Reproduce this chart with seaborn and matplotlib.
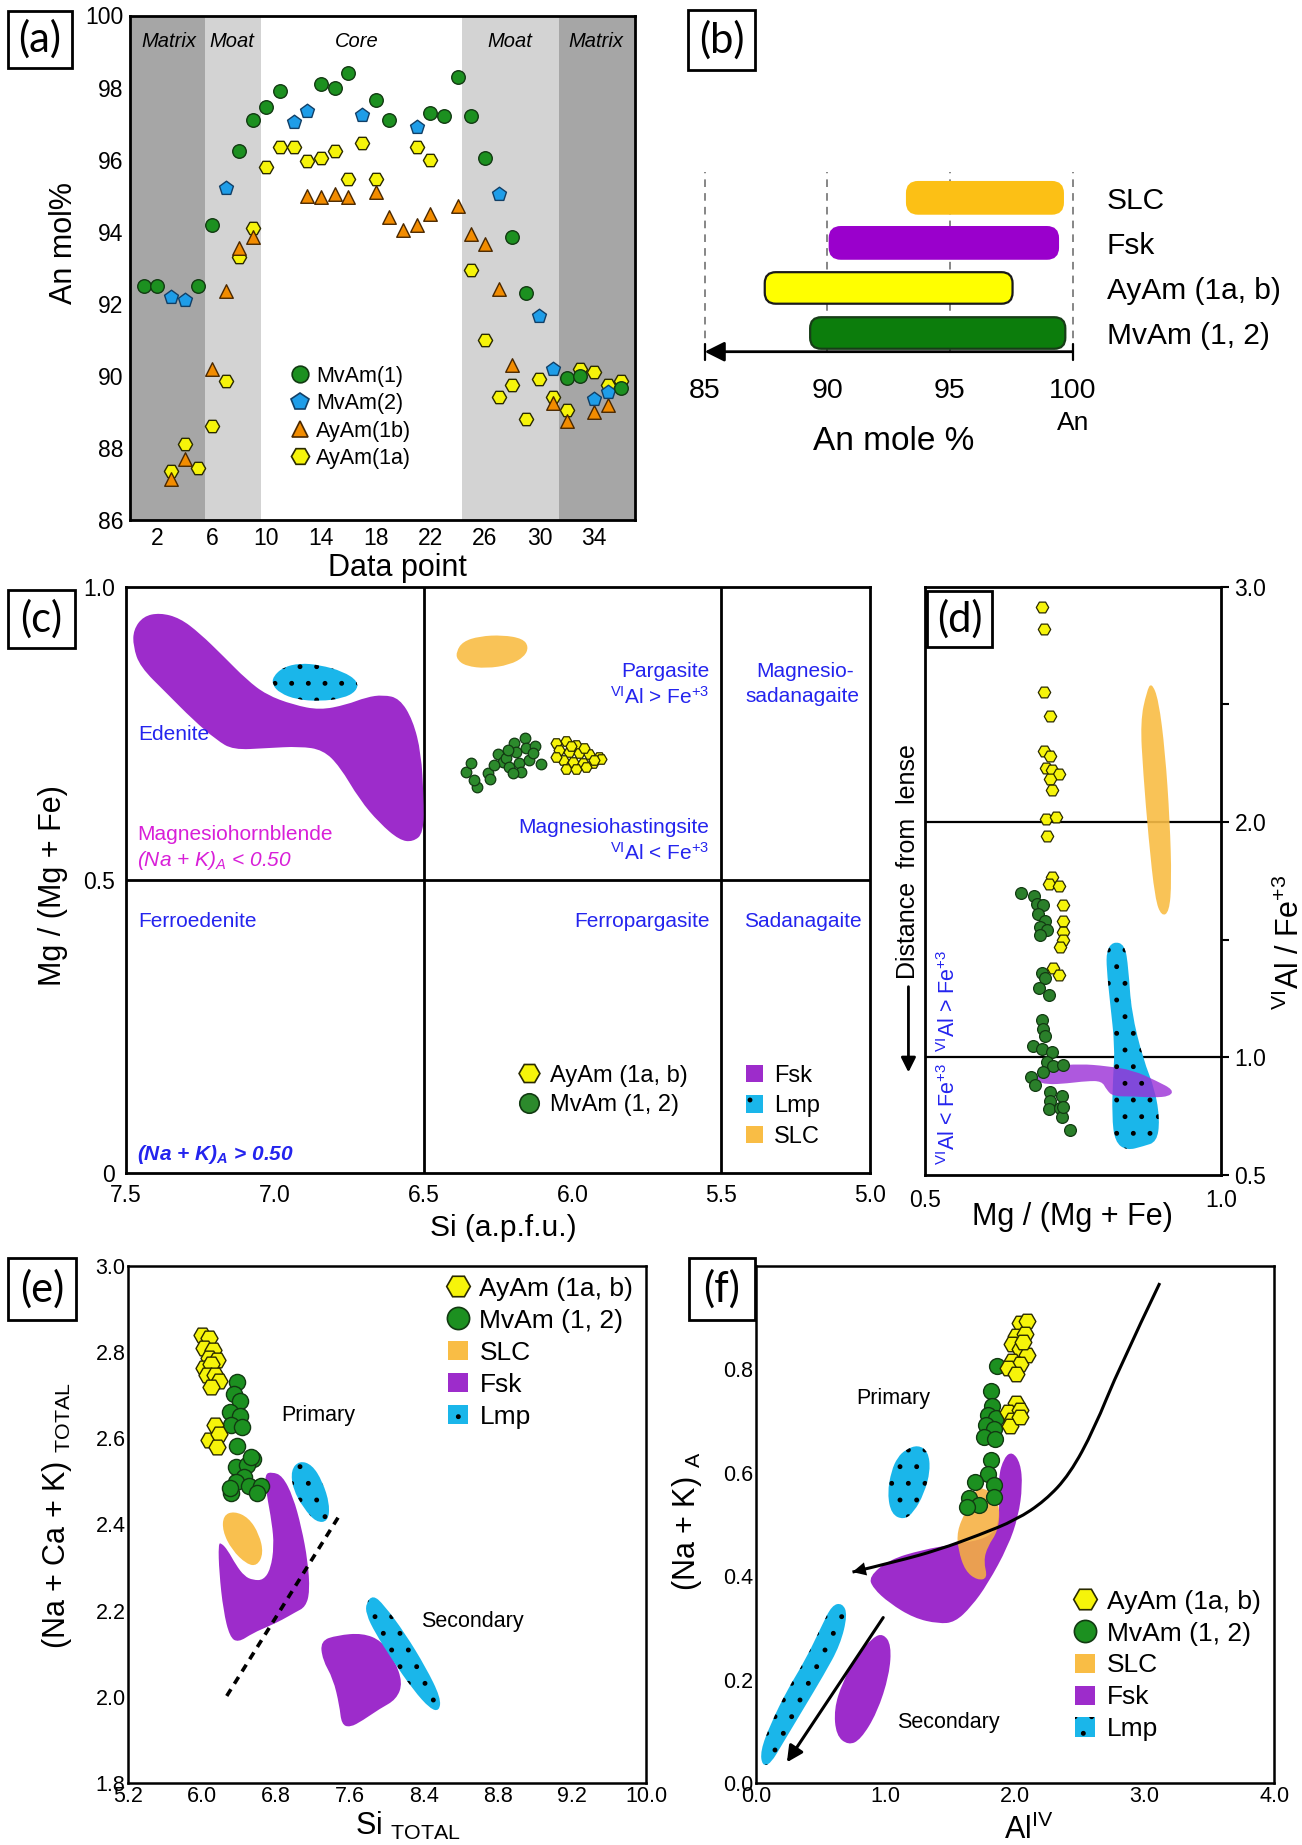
import numpy as np
import matplotlib
matplotlib.use("Agg")
import matplotlib.pyplot as plt
import seaborn as sns
from matplotlib.path import Path
from matplotlib.patches import PathPatch, FancyBboxPatch, Patch, Rectangle
from matplotlib.lines import Line2D
from matplotlib.ticker import FixedLocator, MultipleLocator

# ============================ DATA ============================
# ---- (a) An mol% profile ----
a_zone_edges = [0, 5.5, 9.6, 24.3, 31.4, 37]
a_zone_names = ["Matrix", "Moat", "Core", "Moat", "Matrix"]
a_zone_label_x = [2.85, 7.45, 16.6, 27.8, 34.1]
a_mv1_x = [1, 2, 5, 6, 8, 9, 10, 11, 14, 15, 16, 18, 19, 22, 23, 24, 25, 26, 28, 29, 32, 33, 36]
a_mv1_y = [92.5, 92.5, 92.5, 94.2, 96.25, 97.1, 97.45, 97.9, 98.1, 98.0, 98.4, 97.65, 97.1,
           97.3, 97.2, 98.3, 97.2, 96.05, 93.85, 92.3, 89.95, 90.0, 89.65]
a_mv2_x = [3, 4, 7, 12, 13, 17, 21, 27, 30, 31, 34, 35]
a_mv2_y = [92.2, 92.1, 95.2, 97.05, 97.35, 97.25, 96.9, 95.05, 91.65, 90.2, 89.35, 89.55]
a_ay1b_x = [3, 4, 6, 7, 8, 9, 13, 14, 15, 16, 18, 19, 20, 21, 22, 24, 25, 26, 27, 28, 31, 32, 34, 35]
a_ay1b_y = [87.15, 87.7, 90.2, 92.35, 93.55, 93.85, 95.0, 94.95, 95.05, 94.95, 95.1, 94.4, 94.05,
            94.2, 94.5, 94.7, 93.95, 93.65, 92.4, 90.3, 89.25, 88.75, 89.0, 89.2]
a_ay1a_x = [3, 4, 5, 6, 7, 8, 9, 10, 11, 12, 13, 14, 15, 16, 17, 18, 21, 22, 25, 26, 27, 28, 29,
            30, 31, 32, 33, 34, 35, 36]
a_ay1a_y = [87.35, 88.1, 87.45, 88.6, 89.85, 93.3, 94.1, 95.8, 96.35, 96.35, 95.95, 96.05, 96.25,
            95.45, 96.45, 95.45, 96.35, 96.0, 92.95, 91.0, 89.4, 89.75, 88.8, 89.9, 89.4, 89.05,
            90.2, 90.1, 89.75, 89.85]

# ---- (b) An ranges ----
b_labels = ["MvAm (1, 2)", "AyAm (1a, b)", "Fsk", "SLC"]
b_start = [89.3, 87.45, 90.1, 93.25]
b_end = [99.7, 97.55, 99.4, 99.6]
b_grid = [85, 90, 95, 100]

# ---- (c) Si vs Mg/(Mg+Fe) ----
c_mv_si = [6.357, 6.340, 6.321, 6.329, 6.284, 6.278, 6.251, 6.234, 6.223, 6.214, 6.195, 6.189,
           6.178, 6.158, 6.156, 6.172, 6.200, 6.145, 6.125, 6.106, 6.134, 6.217, 6.262]
c_mv_mg = [0.685, 0.700, 0.659, 0.671, 0.683, 0.673, 0.715, 0.702, 0.708, 0.692, 0.733, 0.719,
           0.700, 0.743, 0.725, 0.685, 0.683, 0.705, 0.728, 0.698, 0.716, 0.722, 0.696]
c_ay_si = [6.055, 6.021, 5.988, 6.044, 6.010, 5.977, 5.943, 5.910, 6.033, 5.999, 5.966, 5.932,
           5.904, 6.021, 5.988, 5.955, 6.055, 6.005, 5.960, 5.927]
c_ay_mg = [0.733, 0.738, 0.730, 0.722, 0.719, 0.716, 0.715, 0.710, 0.705, 0.702, 0.700, 0.699,
           0.706, 0.690, 0.690, 0.693, 0.710, 0.728, 0.725, 0.705]
c_fsk_x = [7.475, 7.442, 7.386, 7.319, 7.252, 7.173, 7.095, 7.028, 6.938, 6.849, 6.760, 6.692,
           6.636, 6.581, 6.536, 6.508, 6.500, 6.500, 6.536, 6.581, 6.648, 6.715, 6.782, 6.838,
           6.916, 7.028, 7.140, 7.196, 7.274, 7.364, 7.453, 7.476]
c_fsk_y = [0.927, 0.950, 0.956, 0.947, 0.921, 0.882, 0.842, 0.816, 0.799, 0.790, 0.799, 0.812,
           0.816, 0.810, 0.773, 0.716, 0.642, 0.580, 0.565, 0.568, 0.597, 0.637, 0.694, 0.722,
           0.728, 0.725, 0.722, 0.739, 0.773, 0.819, 0.864, 0.899]
c_lmp_x = [7.006, 6.972, 6.916, 6.849, 6.771, 6.720, 6.726, 6.771, 6.849, 6.927, 6.983, 7.008]
c_lmp_y = [0.847, 0.863, 0.870, 0.867, 0.856, 0.839, 0.822, 0.810, 0.805, 0.808, 0.819, 0.833]
c_slc_x = [6.390, 6.368, 6.312, 6.234, 6.167, 6.147, 6.161, 6.211, 6.290, 6.357, 6.388]
c_slc_y = [0.890, 0.907, 0.916, 0.918, 0.912, 0.898, 0.881, 0.867, 0.861, 0.865, 0.876]

# ---- (d) Mg/(Mg+Fe) vs VIAl/Fe3+ ----
d_ay_x = [0.697, 0.701, 0.701, 0.711, 0.701, 0.712, 0.705, 0.714, 0.727, 0.711, 0.714, 0.704,
          0.722, 0.706, 0.714, 0.709, 0.727, 0.733, 0.733, 0.734, 0.734, 0.728, 0.717, 0.727]
d_ay_y = [2.915, 2.818, 2.551, 2.449, 2.302, 2.28, 2.228, 2.221, 2.203, 2.184, 2.136, 2.013,
          2.022, 1.939, 1.764, 1.737, 1.727, 1.645, 1.58, 1.534, 1.497, 1.47, 1.378, 1.35]
d_mv_x = [0.662, 0.684, 0.689, 0.700, 0.691, 0.703, 0.694, 0.706, 0.694, 0.697, 0.703, 0.693,
          0.709, 0.697, 0.700, 0.703, 0.683, 0.697, 0.714, 0.706, 0.717, 0.700, 0.733, 0.680,
          0.686, 0.711, 0.712, 0.710, 0.731, 0.728, 0.731, 0.745, 0.734]
d_mv_y = [1.70, 1.685, 1.65, 1.645, 1.608, 1.58, 1.553, 1.54, 1.521, 1.359, 1.337, 1.295, 1.263,
          1.157, 1.12, 1.092, 1.05, 1.037, 1.022, 0.982, 0.963, 0.939, 0.969, 0.917, 0.884,
          0.853, 0.816, 0.779, 0.834, 0.785, 0.748, 0.692, 0.788]
d_slc_x = [0.875, 0.883, 0.895, 0.906, 0.914, 0.917, 0.913, 0.900, 0.889, 0.878, 0.869, 0.864]
d_slc_y = [2.556, 2.593, 2.519, 2.298, 2.004, 1.746, 1.617, 1.599, 1.672, 1.930, 2.206, 2.427]
d_lmp_x = [0.807, 0.818, 0.838, 0.844, 0.849, 0.869, 0.889, 0.897, 0.892, 0.869, 0.841, 0.821,
           0.816, 0.818, 0.821, 0.813, 0.807]
d_lmp_y = [1.451, 1.492, 1.479, 1.378, 1.193, 0.991, 0.862, 0.733, 0.641, 0.622, 0.604, 0.641,
           0.751, 0.917, 1.046, 1.230, 1.378]
d_fsk_x = [0.689, 0.717, 0.762, 0.807, 0.852, 0.892, 0.920, 0.914, 0.886, 0.852, 0.818, 0.807,
           0.799, 0.773, 0.740, 0.706, 0.689]
d_fsk_y = [0.936, 0.963, 0.972, 0.963, 0.945, 0.899, 0.862, 0.834, 0.829, 0.834, 0.834, 0.862,
           0.899, 0.899, 0.889, 0.884, 0.899]

# ---- (e) Si total vs (Na+Ca+K) total ----
e_xtick_labels = ["5.2", "6.0", "6.8", "7.6", "8.4", "8.8", "9.2", "10.0"]
e_ay_x = [5.999, 6.068, 6.022, 6.113, 6.068, 6.159, 6.022, 6.090, 6.045, 6.136, 6.182, 6.090,
          6.136, 6.068, 6.182, 6.159]
e_ay_y = [2.841, 2.833, 2.810, 2.806, 2.786, 2.781, 2.764, 2.773, 2.746, 2.748, 2.733, 2.720,
          2.632, 2.597, 2.610, 2.579]
e_mv_x = [6.378, 6.342, 6.410, 6.296, 6.410, 6.310, 6.433, 6.378, 6.547, 6.364, 6.479, 6.447,
          6.364, 6.502, 6.638, 6.310, 6.593, 6.296, 6.524]
e_mv_y = [2.730, 2.704, 2.686, 2.660, 2.652, 2.630, 2.627, 2.582, 2.553, 2.533, 2.537, 2.510,
          2.498, 2.489, 2.489, 2.472, 2.472, 2.484, 2.557]
e_slc_x = [6.227, 6.342, 6.501, 6.616, 6.661, 6.593, 6.479, 6.319, 6.218]
e_slc_y = [2.421, 2.431, 2.416, 2.377, 2.333, 2.304, 2.308, 2.341, 2.385]
e_fsk1_x = [6.173, 6.182, 6.227, 6.296, 6.387, 6.547, 6.730, 6.867, 7.004, 7.118, 7.163, 7.141,
            7.072, 6.981, 6.867, 6.753, 6.675, 6.693, 6.753, 6.775, 6.739, 6.661, 6.547, 6.456,
            6.364, 6.273, 6.205]
e_fsk1_y = [2.355, 2.289, 2.200, 2.139, 2.126, 2.148, 2.165, 2.179, 2.196, 2.209, 2.245, 2.315,
            2.394, 2.465, 2.513, 2.522, 2.517, 2.473, 2.403, 2.350, 2.297, 2.271, 2.271, 2.280,
            2.306, 2.341, 2.357]
e_lmp1_x = [6.958, 7.049, 7.186, 7.300, 7.378, 7.360, 7.232, 7.095, 6.981]
e_lmp1_y = [2.526, 2.548, 2.539, 2.500, 2.447, 2.407, 2.405, 2.438, 2.482]
e_fsk2_x = [7.278, 7.460, 7.734, 7.940, 8.077, 8.168, 8.100, 7.917, 7.734, 7.597, 7.506, 7.483,
            7.415, 7.300]
e_fsk2_y = [2.130, 2.143, 2.148, 2.130, 2.086, 2.033, 1.994, 1.972, 1.945, 1.929, 1.936, 1.980,
            2.042, 2.086]
e_lmp2_x = [7.771, 7.848, 7.963, 8.191, 8.419, 8.579, 8.565, 8.465, 8.282, 8.054, 7.871, 7.771]
e_lmp2_y = [2.218, 2.236, 2.214, 2.148, 2.068, 1.998, 1.967, 1.972, 2.016, 2.086, 2.148, 2.192]
e_dash_x = [6.264, 7.483]
e_dash_y = [2.002, 2.421]

# ---- (f) AlIV vs (Na+K)A ----
f_ay_x = [2.041, 2.089, 2.009, 2.073, 1.972, 2.035, 2.089, 1.978, 2.041, 1.946, 2.009, 2.009,
          1.946, 2.035, 1.978, 1.962, 2.035, 2.057]
f_ay_y = [0.890, 0.894, 0.864, 0.868, 0.850, 0.840, 0.828, 0.817, 0.811, 0.802, 0.791, 0.735,
          0.718, 0.722, 0.703, 0.691, 0.707, 0.853]
f_mv_x = [1.858, 1.813, 1.820, 1.788, 1.851, 1.772, 1.835, 1.756, 1.845, 1.813, 1.788, 1.693,
          1.835, 1.646, 1.835, 1.718, 1.630]
f_mv_y = [0.807, 0.758, 0.729, 0.711, 0.706, 0.692, 0.685, 0.670, 0.665, 0.625, 0.597, 0.582,
          0.577, 0.552, 0.553, 0.538, 0.533]
f_slc_x = [1.614, 1.693, 1.756, 1.835, 1.883, 1.867, 1.788, 1.756, 1.788, 1.709, 1.614, 1.560, 1.551]
f_slc_y = [0.524, 0.568, 0.571, 0.557, 0.531, 0.487, 0.458, 0.429, 0.396, 0.392, 0.410, 0.451, 0.487]
f_fsk1_x = [0.870, 1.028, 1.282, 1.535, 1.788, 1.883, 1.867, 1.915, 1.978, 2.041, 2.057, 2.025,
            1.946, 1.788, 1.661, 1.535, 1.408, 1.218, 1.028, 0.902]
f_fsk1_y = [0.399, 0.432, 0.451, 0.462, 0.473, 0.502, 0.590, 0.630, 0.641, 0.619, 0.575, 0.516,
            0.458, 0.385, 0.341, 0.311, 0.308, 0.319, 0.348, 0.377]
f_fsk2_x = [0.902, 0.981, 1.044, 1.028, 0.934, 0.807, 0.712, 0.617, 0.601, 0.665, 0.775]
f_fsk2_y = [0.282, 0.289, 0.267, 0.209, 0.136, 0.084, 0.073, 0.092, 0.143, 0.194, 0.245]
f_lmp1_x = [1.155, 1.250, 1.329, 1.345, 1.297, 1.218, 1.139, 1.044, 1.013, 1.044, 1.092]
f_lmp1_y = [0.645, 0.654, 0.641, 0.604, 0.560, 0.524, 0.509, 0.520, 0.560, 0.604, 0.630]
f_lmp2_x = [0.585, 0.665, 0.706, 0.649, 0.522, 0.364, 0.206, 0.111, 0.047, 0.032, 0.111, 0.237,
            0.380, 0.506]
f_lmp2_y = [0.344, 0.348, 0.326, 0.267, 0.209, 0.143, 0.077, 0.037, 0.033, 0.062, 0.114, 0.179,
            0.238, 0.304]
f_curve_x = [3.117, 2.801, 2.611, 2.421, 2.231, 2.009, 1.725, 1.408, 1.092, 0.744]
f_curve_y = [0.967, 0.802, 0.685, 0.597, 0.546, 0.509, 0.480, 0.451, 0.429, 0.408]
f_arrow2_x = [0.981, 0.237]
f_arrow2_y = [0.320, 0.040]

# ============================ STYLE ============================
sns.set_style("white")
plt.rcParams["font.family"] = ["Liberation Sans", "DejaVu Sans"]
plt.rcParams["mathtext.fontset"] = "custom"
plt.rcParams["mathtext.rm"] = "Liberation Sans"
plt.rcParams["mathtext.it"] = "Liberation Sans:italic"
plt.rcParams["mathtext.bf"] = "Liberation Sans:bold"
plt.rcParams["hatch.linewidth"] = 1.1
plt.rcParams["hatch.color"] = "black"
for k in ["axes.edgecolor", "xtick.color", "ytick.color", "text.color", "axes.labelcolor"]:
    plt.rcParams[k] = "black"

GREEN, GREEN_E = "#1c9020", "#123a12"
BLUE, BLUE_E = "#1e9de8", "#123f66"
ORANGE, ORANGE_E = "#f28c00", "#4a2800"
YELLOW, YELLOW_E = "#f6f40a", "#2a2a00"
PURPLE = "#9d2ccb"
CYAN = "#1ab6ea"
SLC_C = "#f9bd45"
TBLUE = "#2424ee"
TMAG = "#d81fd8"

W, H = 1302, 1845
fig = plt.figure(figsize=(W / 100, H / 100), dpi=100)


def add_ax(l, t, r, b):
    return fig.add_axes([l / W, 1 - b / H, (r - l) / W, (b - t) / H])


def smooth_closed(xs, ys):
    p = np.column_stack([xs, ys]).astype(float)
    m = (p + np.roll(p, -1, axis=0)) / 2.0
    verts, codes = [m[-1]], [Path.MOVETO]
    for i in range(len(p)):
        verts += [p[i], m[i]]
        codes += [Path.CURVE3, Path.CURVE3]
    verts.append(m[-1])
    codes.append(Path.CLOSEPOLY)
    return Path(np.array(verts), codes)


def smooth_open(xs, ys):
    p = np.column_stack([xs, ys]).astype(float)
    n = len(p)
    verts, codes = [p[0]], [Path.MOVETO]
    for i in range(1, n - 1):
        end = p[n - 1] if i == n - 2 else (p[i] + p[i + 1]) / 2
        verts += [p[i], end]
        codes += [Path.CURVE3, Path.CURVE3]
    return Path(np.array(verts), codes)


def region(ax, xs, ys, color, alpha=1.0, dots=False, z=2):
    path = smooth_closed(xs, ys)
    ax.add_patch(PathPatch(path, facecolor=color, edgecolor="none", alpha=alpha, zorder=z))
    if dots:
        ax.add_patch(PathPatch(path, facecolor="none", edgecolor="black", lw=0, hatch=".",
                               zorder=z + 0.1))


def pts(ax, x, y, marker, s, color, edge, lw=1.0, z=5):
    sns.scatterplot(x=x, y=y, marker=marker, s=s, color=color, edgecolor=edge,
                    linewidth=lw, ax=ax, zorder=z, legend=False)


def panel_label(txt, l, t, r, b):
    fig.add_artist(Rectangle((l / W, 1 - b / H), (r - l) / W, (b - t) / H,
                             transform=fig.transFigure, fc="white", ec="black", lw=2.0))
    fig.text((l + r) / 2 / W, 1 - (t + b) / 2 / H, txt, ha="center", va="center",
             fontsize=30, family=["Lato", "DejaVu Sans"])


def mk(marker, color, edge, ms):
    return Line2D([], [], ls="none", marker=marker, markersize=ms, markerfacecolor=color,
                  markeredgecolor=edge, markeredgewidth=1.2)


# ============================ (a) ============================
ax = add_ax(130, 15.5, 635, 520)
ax.set_xlim(0, 37)
ax.set_ylim(86, 100)
zone_cols = ["#a6a6a6", "#d3d3d3", "white", "#d3d3d3", "#a6a6a6"]
for i in range(5):
    ax.axvspan(a_zone_edges[i], a_zone_edges[i + 1], color=zone_cols[i], lw=0, zorder=0)
    ax.text(a_zone_label_x[i], 99.28, a_zone_names[i], style="italic", ha="center",
            va="center", fontsize=14.5, zorder=1)
pts(ax, a_ay1a_x, a_ay1a_y, "H", 105, YELLOW, YELLOW_E)
pts(ax, a_ay1b_x, a_ay1b_y, "^", 95, ORANGE, ORANGE_E)
pts(ax, a_mv2_x, a_mv2_y, "p", 110, BLUE, BLUE_E)
pts(ax, a_mv1_x, a_mv1_y, "o", 95, GREEN, GREEN_E)
ax.xaxis.set_major_locator(FixedLocator(list(range(2, 35, 4))))
ax.xaxis.set_minor_locator(MultipleLocator(1))
ax.yaxis.set_major_locator(MultipleLocator(2))
ax.yaxis.set_minor_locator(MultipleLocator(1))
ax.tick_params(which="both", direction="in", labelsize=16.5, width=1.3, pad=5)
ax.tick_params(which="major", length=6)
ax.tick_params(which="minor", length=4)
for s in ax.spines.values():
    s.set_linewidth(2)
ax.set_xlabel("Data point", fontsize=22, va="center")
ax.xaxis.set_label_coords(0.53, -0.095)
ax.set_ylabel("An mol%", fontsize=22, va="center")
ax.yaxis.set_label_coords(-0.13, 0.55)
h = [mk("o", GREEN, GREEN_E, 12), mk("p", BLUE, BLUE_E, 13), mk("^", ORANGE, ORANGE_E, 12),
     mk("H", YELLOW, YELLOW_E, 13)]
ax.legend(h, ["MvAm(1)", "MvAm(2)", "AyAm(1b)", "AyAm(1a)"], loc="upper left",
          bbox_to_anchor=(0.320, 0.306), frameon=False, fontsize=15.5, handlelength=0.8,
          handletextpad=0.35, labelspacing=0.3, borderpad=0, borderaxespad=0)

# ============================ (b) ============================
axb = add_ax(680.1, 171.7, 1097.2, 351.7)
axb.set_xlim(84, 101)
axb.set_ylim(-0.415, 3.58)
axb.vlines(b_grid, -0.415, 3.58, colors="#666666", lw=1.1, linestyles=(0, (5, 4)), zorder=1)
b_fill = ["#0c7d0c", "#ffff00", "#9a00cc", "#fcc015"]
b_edge = ["#173d17", "#1a1a1a", "#9a00cc", "#fcc015"]
for i in range(4):
    axb.add_patch(FancyBboxPatch((b_start[i], i - 0.35), b_end[i] - b_start[i], 0.70,
                                 boxstyle="round,pad=0,rounding_size=0.45",
                                 mutation_aspect=0.545, fc=b_fill[i], ec=b_edge[i], lw=1.6,
                                 zorder=3))
axb.annotate("", xy=(b_grid[0], -0.415), xytext=(b_grid[-1], -0.415),
             arrowprops=dict(arrowstyle="-|>", color="black", lw=2, mutation_scale=30,
                             shrinkA=0, shrinkB=0), annotation_clip=False, zorder=4)
for xv in (b_grid[0], b_grid[-1]):
    axb.plot([xv, xv], [-0.6, -0.25], color="black", lw=1.6, clip_on=False, zorder=4)
for s in axb.spines.values():
    s.set_visible(False)
axb.set_xticks(b_grid)
axb.tick_params(axis="x", length=0, pad=19, labelsize=20.5)
axb.set_yticks(range(4))
axb.set_yticklabels(b_labels)
axb.yaxis.tick_right()
axb.tick_params(axis="y", length=0, pad=7, labelsize=21.5)
axb.text(b_grid[-1], -2.0, "An", ha="center", va="center", fontsize=19)
axb.set_xlabel("An mole %", fontsize=24, va="center")
axb.xaxis.set_label_coords(0.513, -0.5)

# ============================ (c) ============================
axc = add_ax(126, 587, 870, 1173)
axc.set_xlim(7.5, 5.0)
axc.set_ylim(0, 1)
axc.axvline(6.5, color="black", lw=2, zorder=1)
axc.axvline(5.5, color="black", lw=2, zorder=1)
axc.axhline(0.5, color="black", lw=2, zorder=1)
region(axc, c_fsk_x, c_fsk_y, PURPLE)
region(axc, c_lmp_x, c_lmp_y, CYAN, dots=True)
region(axc, c_slc_x, c_slc_y, SLC_C, alpha=0.9)
pts(axc, c_mv_si, c_mv_mg, "o", 58, "#2c8a2c", GREEN_E, lw=0.9)
pts(axc, c_ay_si, c_ay_mg, "H", 62, YELLOW, YELLOW_E, lw=0.9)
axc.set_xticks([7.5, 7.0, 6.5, 6.0, 5.5, 5.0])
axc.set_xticklabels(["7.5", "7.0", "6.5", "6.0", "5.5", "5.0"])
axc.set_yticks([0, 0.5, 1.0])
axc.set_yticklabels(["0", "0.5", "1.0"])
axc.tick_params(direction="out", length=5, width=1.5, labelsize=16.5, pad=3)
for s in axc.spines.values():
    s.set_linewidth(2)
axc.set_xlabel("Si (a.p.f.u.)", fontsize=21.5, va="center")
axc.xaxis.set_label_coords(0.507, -0.094)
axc.set_ylabel("Mg / (Mg + Fe)", fontsize=22, va="center")
axc.yaxis.set_label_coords(-0.098, 0.49)
c_texts = [
    ("Edenite", 7.459, 0.748, "left", TBLUE, "normal", "normal"),
    ("Magnesiohornblende", 7.462, 0.577, "left", TMAG, "normal", "normal"),
    ("(Na + K)$_{\\mathregular{A}}$ < 0.50", 7.462, 0.534, "left", TMAG, "italic", "normal"),
    ("Ferroedenite", 7.459, 0.429, "left", TBLUE, "normal", "normal"),
    ("Pargasite", 5.54, 0.855, "right", TBLUE, "normal", "normal"),
    ("$^{\\mathregular{VI}}$Al > Fe$^{\\mathregular{+3}}$", 5.54, 0.813, "right", TBLUE, "normal", "normal"),
    ("Magnesiohastingsite", 5.54, 0.589, "right", TBLUE, "normal", "normal"),
    ("$^{\\mathregular{VI}}$Al < Fe$^{\\mathregular{+3}}$", 5.54, 0.546, "right", TBLUE, "normal", "normal"),
    ("Ferropargasite", 5.54, 0.429, "right", TBLUE, "normal", "normal"),
    ("Magnesio-", 5.054, 0.855, "right", TBLUE, "normal", "normal"),
    ("sadanagaite", 5.035, 0.813, "right", TBLUE, "normal", "normal"),
    ("Sadanagaite", 5.227, 0.430, "center", TBLUE, "normal", "normal"),
    ("(Na + K)$_{\\mathregular{A}}$ > 0.50", 7.463, 0.031, "left", TBLUE, "italic", "bold"),
]
for t, x, y, ha, col, sty, wt in c_texts:
    axc.text(x, y, t, ha=ha, va="center", color=col, style=sty, weight=wt, fontsize=15, zorder=6)
leg1 = axc.legend([mk("H", YELLOW, YELLOW_E, 15), mk("o", "#2c8a2c", GREEN_E, 14)],
                  ["AyAm (1a, b)", "MvAm (1, 2)"], loc="upper left",
                  bbox_to_anchor=(0.527, 0.185), frameon=False, fontsize=17,
                  handlelength=0.9, handletextpad=0.45, labelspacing=0.32, borderpad=0,
                  borderaxespad=0)
axc.add_artist(leg1)
axc.legend([Patch(fc=PURPLE, ec="none"), Patch(fc=CYAN, ec="black", lw=0, hatch="."),
            Patch(fc=SLC_C, ec="none")], ["Fsk", "Lmp", "SLC"], loc="upper left",
           bbox_to_anchor=(0.833, 0.185), frameon=False, fontsize=17, handlelength=0.75,
           handleheight=0.75, handletextpad=0.45, labelspacing=0.36, borderpad=0,
           borderaxespad=0)

# ============================ (d) ============================
axd = add_ax(925, 586.5, 1220.7, 1175)
axd.set_xlim(0.5, 1.0)
axd.set_ylim(0.5, 3.0)
axd.axhline(1.0, color="black", lw=1.6, zorder=1)
axd.axhline(2.0, color="black", lw=1.6, zorder=1)
region(axd, d_slc_x, d_slc_y, SLC_C, alpha=0.9)
region(axd, d_lmp_x, d_lmp_y, CYAN)
region(axd, d_fsk_x, d_fsk_y, "#9a2ed6", alpha=0.8, z=2.5)
axd.add_patch(PathPatch(smooth_closed(d_lmp_x, d_lmp_y), facecolor="none", edgecolor="black",
                        lw=0, hatch=".", zorder=2.6))
pts(axd, d_mv_x, d_mv_y, "o", 72, "#2a7f2a", GREEN_E, lw=0.9)
pts(axd, d_ay_x, d_ay_y, "H", 80, YELLOW, YELLOW_E, lw=0.9)
axd.yaxis.tick_right()
axd.yaxis.set_label_position("right")
axd.set_yticks([0.5, 1.0, 1.5, 2.0, 2.5, 3.0])
axd.set_yticklabels(["0.5", "1.0", "", "2.0", "", "3.0"])
axd.set_xticks([0.5, 1.0])
axd.set_xticklabels(["0.5", "1.0"])
axd.xaxis.set_minor_locator(FixedLocator([0.6, 0.7, 0.8, 0.9]))
axd.tick_params(which="both", direction="out", length=6, width=1.5, labelsize=16.5, pad=4)
for s in axd.spines.values():
    s.set_linewidth(2)
axd.set_xlabel("Mg / (Mg + Fe)", fontsize=22, va="center")
axd.xaxis.set_label_coords(0.5, -0.072)
axd.set_ylabel("$^{\\mathregular{VI}}$Al / Fe$^{\\mathregular{+3}}$", fontsize=22, va="center",
               rotation=90)
axd.yaxis.set_label_coords(1.234, 0.395)
axd.text(0.472, 1.83, "Distance  from  lense", rotation=90, ha="center", va="center",
         fontsize=18, clip_on=False)
axd.annotate("", xy=(0.472, 0.936), xytext=(0.472, 1.30),
             arrowprops=dict(arrowstyle="-|>", color="black", lw=2, mutation_scale=22,
                             shrinkA=0, shrinkB=0), annotation_clip=False)
axd.text(0.539, 1.24, "$^{\\mathregular{VI}}$Al > Fe$^{\\mathregular{+3}}$", rotation=90,
         ha="center", va="center", color=TBLUE, fontsize=15.5)
axd.text(0.539, 0.76, "$^{\\mathregular{VI}}$Al < Fe$^{\\mathregular{+3}}$", rotation=90,
         ha="center", va="center", color=TBLUE, fontsize=15.5)

# ============================ (e) ============================
axe = add_ax(128.4, 1266, 646, 1783)
axe.set_xlim(5.2, 10.8)
axe.set_ylim(1.8, 3.0)
region(axe, e_fsk1_x, e_fsk1_y, PURPLE)
region(axe, e_slc_x, e_slc_y, SLC_C, alpha=0.95)
region(axe, e_lmp1_x, e_lmp1_y, CYAN, dots=True)
region(axe, e_fsk2_x, e_fsk2_y, PURPLE)
region(axe, e_lmp2_x, e_lmp2_y, CYAN, dots=True, z=2.3)
axe.plot(e_dash_x, e_dash_y, color="black", lw=2.6, ls=(0, (2.2, 1.8)), zorder=4)
pts(axe, e_mv_x, e_mv_y, "o", 135, GREEN, GREEN_E)
pts(axe, e_ay_x, e_ay_y, "H", 150, YELLOW, YELLOW_E)
axe.text(7.255, 2.652, "Primary", ha="center", va="center", fontsize=15.5)
axe.text(8.92, 2.174, "Secondary", ha="center", va="center", fontsize=15.5)
axe.set_xticks([5.2 + 0.8 * k for k in range(8)])
axe.set_xticklabels(e_xtick_labels)
axe.xaxis.set_minor_locator(FixedLocator([5.6 + 0.8 * k for k in range(7)]))
axe.yaxis.set_major_locator(MultipleLocator(0.2))
axe.yaxis.set_minor_locator(MultipleLocator(0.1))
axe.yaxis.set_major_formatter(matplotlib.ticker.FormatStrFormatter("%.1f"))
axe.tick_params(which="both", direction="in", labelsize=15.5, width=1.2, pad=2)
axe.tick_params(which="major", length=6)
axe.tick_params(which="minor", length=6)
for s in axe.spines.values():
    s.set_linewidth(1.8)
axe.set_xlabel("Si $\\mathregular{_{TOTAL}}$", fontsize=22, va="center")
axe.xaxis.set_label_coords(0.54, -0.084)
axe.set_ylabel("(Na + Ca + K) $\\mathregular{_{TOTAL}}$", fontsize=22, va="center")
axe.yaxis.set_label_coords(-0.138, 0.517)
reg_handles = [mk("H", YELLOW, YELLOW_E, 17), mk("o", GREEN, GREEN_E, 16),
               Patch(fc=SLC_C, ec="none"), Patch(fc=PURPLE, ec="none"),
               Patch(fc=CYAN, ec="black", lw=0, hatch=".")]
reg_labels = ["AyAm (1a, b)", "MvAm (1, 2)", "SLC", "Fsk", "Lmp"]
axe.legend(reg_handles, reg_labels, loc="upper left", bbox_to_anchor=(0.617, 0.979),
           frameon=False, fontsize=19, handlelength=0.75, handleheight=0.75,
           handletextpad=0.45, labelspacing=0.3, borderpad=0, borderaxespad=0)

# ============================ (f) ============================
axf = add_ax(756.2, 1266, 1274.1, 1783)
axf.set_xlim(0, 4)
axf.set_ylim(0, 1.0)
region(axf, f_fsk1_x, f_fsk1_y, PURPLE)
region(axf, f_slc_x, f_slc_y, "#f6b040", alpha=0.88, z=2.2)
region(axf, f_fsk2_x, f_fsk2_y, PURPLE)
region(axf, f_lmp1_x, f_lmp1_y, CYAN, dots=True)
region(axf, f_lmp2_x, f_lmp2_y, CYAN, dots=True)
axf.add_patch(PathPatch(smooth_open(f_curve_x, f_curve_y), fill=False, ec="black", lw=2.2,
                        zorder=4))
axf.annotate("", xy=(f_curve_x[-1], f_curve_y[-1]), xytext=(f_curve_x[-2], f_curve_y[-2]),
             arrowprops=dict(arrowstyle="-|>", color="black", lw=0.01, mutation_scale=24,
                             shrinkA=0, shrinkB=0), zorder=4)
axf.annotate("", xy=(f_arrow2_x[1], f_arrow2_y[1]), xytext=(f_arrow2_x[0], f_arrow2_y[0]),
             arrowprops=dict(arrowstyle="-|>", color="black", lw=2.2, mutation_scale=24,
                             shrinkA=0, shrinkB=0), zorder=4)
pts(axf, f_mv_x, f_mv_y, "o", 130, GREEN, GREEN_E)
pts(axf, f_ay_x, f_ay_y, "H", 145, YELLOW, YELLOW_E)
axf.text(1.06, 0.744, "Primary", ha="center", va="center", fontsize=15.5)
axf.text(1.487, 0.117, "Secondary", ha="center", va="center", fontsize=15.5)
axf.xaxis.set_major_locator(MultipleLocator(1.0))
axf.xaxis.set_minor_locator(MultipleLocator(0.5))
axf.xaxis.set_major_formatter(matplotlib.ticker.FormatStrFormatter("%.1f"))
axf.set_yticks([0, 0.2, 0.4, 0.6, 0.8])
axf.yaxis.set_minor_locator(FixedLocator([0.1, 0.3, 0.5, 0.7, 0.9]))
axf.yaxis.set_major_formatter(matplotlib.ticker.FormatStrFormatter("%.1f"))
axf.tick_params(which="both", direction="in", labelsize=15.5, width=1.2, pad=2, length=6)
for s in axf.spines.values():
    s.set_linewidth(1.8)
axf.set_xlabel("Al$^{\\mathregular{IV}}$", fontsize=22, va="center")
axf.xaxis.set_label_coords(0.526, -0.092)
axf.set_ylabel("(Na + K) $\\mathregular{_{A}}$", fontsize=22, va="center")
axf.yaxis.set_label_coords(-0.134, 0.507)
axf.legend(reg_handles, reg_labels, loc="upper left", bbox_to_anchor=(0.6155, 0.374),
           frameon=False, fontsize=19, handlelength=0.75, handleheight=0.75,
           handletextpad=0.45, labelspacing=0.3, borderpad=0, borderaxespad=0)

# ============================ panel labels ============================
panel_label("(a)", 8, 11, 72, 68)
panel_label("(b)", 688, 10, 755, 70)
panel_label("(c)", 8, 590, 75, 648)
panel_label("(d)", 927, 591, 992, 647)
panel_label("(e)", 8, 1258, 76, 1320)
panel_label("(f)", 689, 1258, 755, 1320)

fig.savefig("out.png", dpi=100, facecolor="white")
